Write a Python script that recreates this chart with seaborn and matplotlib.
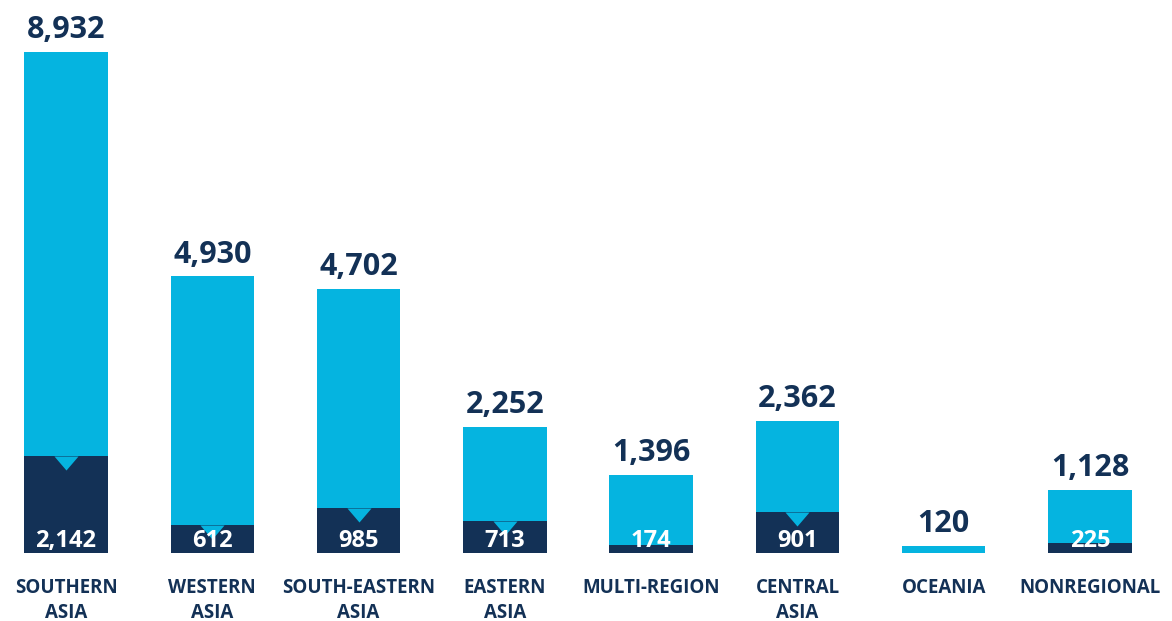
import numpy as np
import pandas as pd
import matplotlib.pyplot as plt
import seaborn as sns

# data
regions = ['SOUTHERN\nASIA', 'WESTERN\nASIA', 'SOUTH-EASTERN\nASIA', 'EASTERN\nASIA',
           'MULTI-REGION', 'CENTRAL\nASIA', 'OCEANIA', 'NONREGIONAL']
totals = [8932, 4930, 4702, 2252, 1396, 2362, 120, 1128]
subset = [2142, 612, 985, 713, 174, 901, np.nan, 225]

LIGHT = '#05b4e0'
NAVY = '#133156'

sns.set_theme(style='white')
plt.rcParams['font.family'] = ['Open Sans', 'DejaVu Sans']

df = pd.DataFrame({'region': regions, 'total': totals, 'subset': subset})

fig = plt.figure(figsize=(11.72, 6.21), dpi=100)
ax = fig.add_axes([0, 68 / 621, 1, 501 / 621])
ax2 = ax.twinx()

sns.barplot(data=df, x='region', y='total', color=LIGHT, saturation=1,
            width=0.57, errorbar=None, linewidth=0, ax=ax)
sns.barplot(data=df, x='region', y='subset', color=NAVY, saturation=1,
            width=0.57, errorbar=None, linewidth=0, ax=ax2)

# the graphic draws the two series on different scales
ax.set_ylim(0, 8932)
ax2.set_ylim(0, 11011)
ax.set_xlim(-0.451, 7.56)

# little notch at the top of the dark bars
notch = [(-12, 0), (12, 0), (0, -14), (-12, 0)]
for i, v in enumerate(subset):
    if not np.isnan(v) and v >= 500:
        ax2.plot(i, v, marker=notch, markersize=20.2, color=LIGHT,
                 markeredgewidth=0, linestyle='none', zorder=3)

for i, v in enumerate(totals):
    ax.annotate(f'{v:,}', (i, v), xytext=(0, 10), textcoords='offset points',
                ha='center', va='baseline', fontsize=22, fontweight='bold',
                color=NAVY, annotation_clip=False)

for i, v in enumerate(subset):
    if not np.isnan(v):
        ax2.annotate(f'{int(v):,}', (i, 0), xytext=(0, 4.5), textcoords='offset points',
                     ha='center', va='baseline', fontsize=17, fontweight='bold',
                     color='white', zorder=4)

for a in (ax, ax2):
    a.set_xlabel('')
    a.set_ylabel('')
    a.set_yticks([])
    for s in a.spines.values():
        s.set_visible(False)

ax.set_xticks(range(len(regions)))
ax.set_xticklabels(regions, fontsize=13.5, fontweight='bold', color=NAVY,
                   linespacing=1.3)
ax.tick_params(axis='x', length=0, pad=18)
ax2.tick_params(axis='x', length=0)

fig.savefig('out.png', dpi=100)
